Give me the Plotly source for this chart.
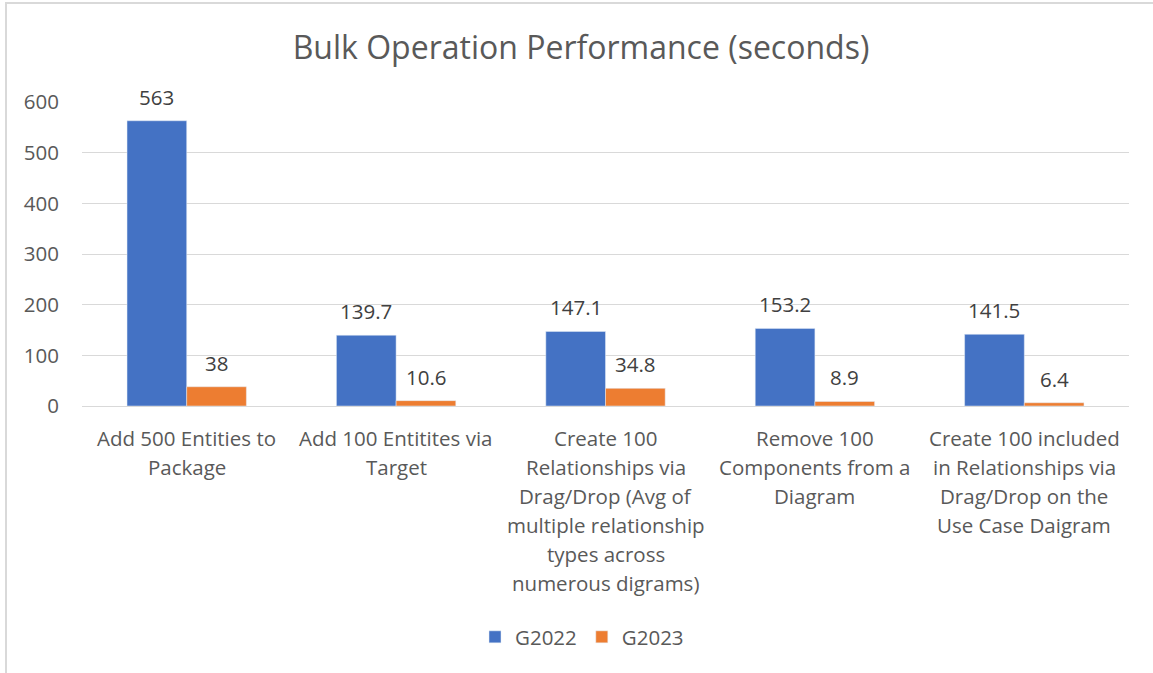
import plotly.graph_objects as go

categories = [
    "Add 500 Entities to Package",
    "Add 100 Entitites via Target",
    "Create 100 Relationships via Drag/Drop (Avg of multiple relationship types across numerous digrams)",
    "Remove 100 Components from a Diagram",
    "Create 100 included in Relationships via Drag/Drop on the Use Case Daigram",
]
category_lines = [
    ["Add 500 Entities to", "Package"],
    ["Add 100 Entitites via", "Target"],
    ["Create 100", "Relationships via", "Drag/Drop (Avg of", "multiple relationship", "types across", "numerous digrams)"],
    ["Remove 100", "Components from a", "Diagram"],
    ["Create 100 included", "in Relationships via", "Drag/Drop on the", "Use Case Daigram"],
]
g2022 = [563, 139.7, 147.1, 153.2, 141.5]
g2023 = [38, 10.6, 34.8, 8.9, 6.4]
g2022_labels = ["563", "139.7", "147.1", "153.2", "141.5"]
g2023_labels = ["38", "10.6", "34.8", "8.9", "6.4"]
y_ticks = [0, 100, 200, 300, 400, 500, 600]

FONT = "Open Sans"
BLUE = "#4472C4"
ORANGE = "#ED7D31"
FS = 20.5

fig = go.Figure()
fig.add_trace(go.Bar(name="G2022", x=categories, y=g2022, marker_color=BLUE))
fig.add_trace(go.Bar(name="G2023", x=categories, y=g2023, marker_color=ORANGE))

annotations = []
# data labels
for cat, v, lab in zip(categories, g2022, g2022_labels):
    annotations.append(dict(x=cat, y=v, xref="x", yref="y", text=lab, showarrow=False,
                            xshift=-30, yanchor="middle", yshift=24,
                            font=dict(family=FONT, size=FS, color="#404040")))
for cat, v, lab in zip(categories, g2023, g2023_labels):
    annotations.append(dict(x=cat, y=v, xref="x", yref="y", text=lab, showarrow=False,
                            xshift=30, yanchor="middle", yshift=24,
                            font=dict(family=FONT, size=FS, color="#404040")))
# category labels (one annotation per line for Excel-like line spacing)
for cat, lines in zip(categories, category_lines):
    for i, line in enumerate(lines):
        annotations.append(dict(x=cat, y=0, xref="x", yref="paper", text=line, showarrow=False,
                                yanchor="middle", yshift=-(32 + 29 * i),
                                font=dict(family=FONT, size=FS, color="#595959")))

fig.update_layout(
    width=1153, height=673,
    margin=dict(l=82, r=24, t=102, b=267),
    paper_bgcolor="white", plot_bgcolor="white",
    barmode="group", bargap=0.43, bargroupgap=0,
    title=dict(text="Bulk Operation Performance (seconds)", x=581 / 1153, xanchor="center",
               y=1 - 48 / 673, yanchor="middle",
               font=dict(family=FONT, size=32, color="#595959")),
    font=dict(family=FONT, size=FS, color="#595959"),
    showlegend=True,
    legend=dict(orientation="h", x=(582 - 82) / 1047, xanchor="center",
                y=-(637 - 406) / 304, yanchor="middle",
                font=dict(family=FONT, size=FS, color="#595959"),
                itemwidth=30, traceorder="normal"),
    annotations=annotations,
    shapes=[dict(type="rect", xref="paper", yref="paper",
                 x0=(6 - 82) / 1047, x1=(1300 - 82) / 1047,
                 y0=-(800 - 406) / 304, y1=(406 - 3) / 304,
                 line=dict(color="#d9d9d9", width=2), layer="below")],
)
fig.update_xaxes(showticklabels=False, showgrid=False, showline=True, linecolor="#d9d9d9",
                 linewidth=1, zeroline=False)
fig.update_yaxes(range=[0, 600], tickvals=y_ticks, showgrid=True, gridcolor="#d9d9d9",
                 gridwidth=1, zeroline=False, showline=False, ticklabelstandoff=22,
                 tickfont=dict(family=FONT, size=FS, color="#595959"))

fig.write_html("out.html", config={"displayModeBar": False},
               post_script="document.body.style.margin='0';")
